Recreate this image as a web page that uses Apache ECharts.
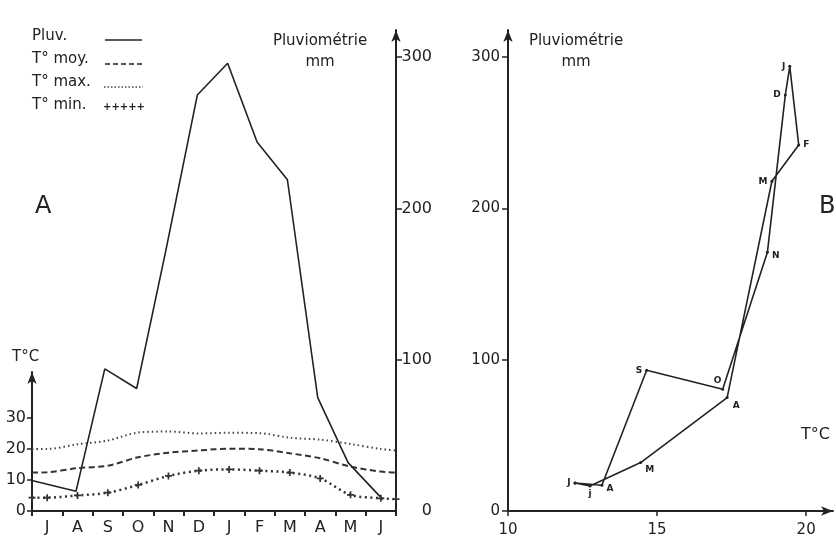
<!DOCTYPE html>
<html><head><meta charset="utf-8">
<script src="https://cdn.jsdelivr.net/npm/echarts@6/dist/echarts.min.js"></script>
<style>html,body{margin:0;padding:0;background:#fff}#c{width:836px;height:539px}</style>
</head><body><div id="c"></div>
<script>
// ---- Panel A data ----
const months = ['J','A','S','O','N','D','J','F','M','A','M','J'];
const pluvX = [0.03,1.45,2.4,3.45,4.42,5.45,6.45,7.42,8.42,9.42,10.42,11.5];
const pluv  = [20,13,94,81,173,275,296,244,219,75,32,9];
const tempX = [0,0.5,1.5,2.5,3.5,4.5,5.5,6.5,7.5,8.5,9.5,10.5,11.5,12];
const tMax  = [20,20,21.5,22.7,25.3,25.6,25.0,25.2,25.1,23.6,23.0,21.6,20.0,19.5];
const tMoy  = [12.4,12.5,13.8,14.6,17.3,18.8,19.5,20.1,19.9,18.6,17.0,14.3,12.7,12.4];
const tMin  = [4.3,4.3,5.0,5.9,8.4,11.3,13.0,13.4,13.0,12.4,10.5,5.2,4.1,3.8];
const tTicks = [0,10,20,30];
const pTicks = [0,100,200,300];
// ---- Panel B data ----
const monthsB = ['J','A','S','O','N','D','J','F','M','A','M','j'];
const tMoyB  = [12.25,13.15,14.65,17.2,18.7,19.3,19.45,19.75,18.85,17.35,14.45,12.75];
const pluvB  = [18.5,17,93,80.5,171,275,294,242,218,75,32,16.5];
const xTicksB = [10,15,20];

const INK = '#222';
const FONT = 'DejaVu Sans';
const labelPos = ['left','right','left','top','right','left','left','right','left','right','right','bottom'];
const labelOff = [[0,0],[0,3],[0,0],[-5,0],[0,3],[0,0],[0,0],[0,0],[0,0],[1,8],[0,7],[0,-1]];

const bData = monthsB.map((m,i)=>({
  value:[tMoyB[i], pluvB[i]],
  label:{show:true, formatter:m, position:labelPos[i], offset:labelOff[i], distance:3}
}));
bData.push({value:[tMoyB[0], pluvB[0]], label:{show:false}});

const zip = (xs, ys) => xs.map((x,i)=>[x, ys[i]]);
const axisLineStyle = {color:INK, width:2};
const arrow = {show:true, onZero:false, symbol:['none','arrow'], symbolSize:[7,12], lineStyle:axisLineStyle};
const lbl = {color:INK, fontFamily:FONT, fontSize:15};

const chart = echarts.init(document.getElementById('c'), null, {renderer:'canvas'});
chart.setOption({
  animation:false,
  backgroundColor:'#fff',
  grid:[
    {left:32, width:364, top:372, height:139},
    {left:32, width:364, top:30, height:481},
    {left:508, width:325, top:30, height:481}
  ],
  xAxis:[
    {type:'value', gridIndex:0, min:0, max:12, show:false},
    {type:'category', gridIndex:0, data:months, boundaryGap:true, position:'bottom',
     axisLine:{show:true, onZero:false, lineStyle:axisLineStyle},
     axisTick:{show:true, interval:0, length:5, lineStyle:{color:INK, width:2}},
     axisLabel:{interval:0, margin:9, fontSize:16, color:INK, fontFamily:FONT},
     splitLine:{show:false}},
    {type:'value', gridIndex:1, min:0, max:12, show:false},
    {type:'value', gridIndex:2, min:10, max:20.9, interval:5,
     axisLine:arrow,
     axisTick:{show:true, length:5, customValues:xTicksB, lineStyle:{color:INK, width:1.5}},
     axisLabel:Object.assign({margin:12, customValues:xTicksB}, lbl),
     splitLine:{show:false}}
  ],
  yAxis:[
    {type:'value', gridIndex:0, min:0, max:44.8, interval:10,
     axisLine:arrow,
     axisTick:{show:true, length:5, customValues:tTicks, lineStyle:{color:INK, width:1.5}},
     axisLabel:{margin:6, customValues:tTicks, fontSize:16, color:INK, fontFamily:FONT},
     splitLine:{show:false}},
    {type:'value', gridIndex:1, position:'right', min:0, max:318, interval:100,
     axisLine:arrow,
     axisTick:{show:true, length:6, customValues:[100,200,300], lineStyle:{color:INK, width:1.5}},
     axisLabel:{margin:36, align:'right', customValues:pTicks, fontSize:16, color:INK, fontFamily:FONT},
     splitLine:{show:false}},
    {type:'value', gridIndex:2, min:0, max:318, interval:100,
     axisLine:arrow,
     axisTick:{show:true, length:6, customValues:pTicks, lineStyle:{color:INK, width:1.5}},
     axisLabel:Object.assign({margin:8, customValues:pTicks}, lbl),
     splitLine:{show:false}}
  ],
  series:[
    {name:'Pluv.', type:'line', xAxisIndex:2, yAxisIndex:1, data:zip(pluvX, pluv),
     symbol:'none', lineStyle:{color:INK, width:1.6}},
    {name:'T° max.', type:'line', xAxisIndex:0, yAxisIndex:0, data:zip(tempX, tMax),
     smooth:0.3, symbol:'none', lineStyle:{color:'#444', width:2, type:[1.5,3]}},
    {name:'T° moy.', type:'line', xAxisIndex:0, yAxisIndex:0, data:zip(tempX, tMoy),
     smooth:0.3, symbol:'none', lineStyle:{color:'#333', width:2, type:[6,3.5]}},
    {name:'T° min.', type:'line', xAxisIndex:0, yAxisIndex:0, data:zip(tempX, tMin),
     smooth:0.3, symbol:'path://M3,0H5V3H8V5H5V8H3V5H0V3H3Z', symbolSize:7,
     itemStyle:{color:'#333'},
     lineStyle:{color:'#333', width:2.5, type:[2,3.5]}},
    {name:'B', type:'line', xAxisIndex:3, yAxisIndex:2, data:bData,
     symbol:'circle', symbolSize:3, itemStyle:{color:INK},
     lineStyle:{color:INK, width:1.6},
     label:{color:INK, fontFamily:FONT, fontSize:9, fontWeight:'bold'}}
  ],
  graphic:[
    {type:'text', left:32, top:29, style:{text:'Pluv.', font:'15px "DejaVu Sans"', fill:INK}},
    {type:'line', shape:{x1:105,y1:40,x2:142,y2:40}, style:{stroke:INK, lineWidth:1.6}},
    {type:'text', left:32, top:52, style:{text:'T° moy.', font:'15px "DejaVu Sans"', fill:INK}},
    {type:'line', shape:{x1:105,y1:64,x2:142,y2:64}, style:{stroke:INK, lineWidth:1.6, lineDash:[5,3]}},
    {type:'text', left:32, top:75, style:{text:'T° max.', font:'15px "DejaVu Sans"', fill:INK}},
    {type:'line', shape:{x1:104,y1:87,x2:143,y2:87}, style:{stroke:'#444', lineWidth:1.3, lineDash:[1.5,2]}},
    {type:'text', left:32, top:98, style:{text:'T° min.', font:'15px "DejaVu Sans"', fill:INK}},
    {type:'text', left:103, top:102, style:{text:'+++++', font:'bold 10px "DejaVu Sans"', fill:INK}},
    {type:'text', left:35, top:195, style:{text:'A', font:'24px "DejaVu Sans"', fill:INK}},
    {type:'text', left:819, top:195, style:{text:'B', font:'24px "DejaVu Sans"', fill:INK}},
    {type:'text', left:12, top:350, style:{text:'T°C', font:'15px "DejaVu Sans"', fill:INK}},
    {type:'text', left:801, top:427, style:{text:'T°C', font:'16px "DejaVu Sans"', fill:INK}},
    {type:'text', x:320, y:31, style:{text:'Pluviométrie\nmm', font:'15px "DejaVu Sans"', fill:INK, align:'center', lineHeight:21}},
    {type:'text', x:576, y:31, style:{text:'Pluviométrie\nmm', font:'15px "DejaVu Sans"', fill:INK, align:'center', lineHeight:21}}
  ]
});
</script></body></html>
